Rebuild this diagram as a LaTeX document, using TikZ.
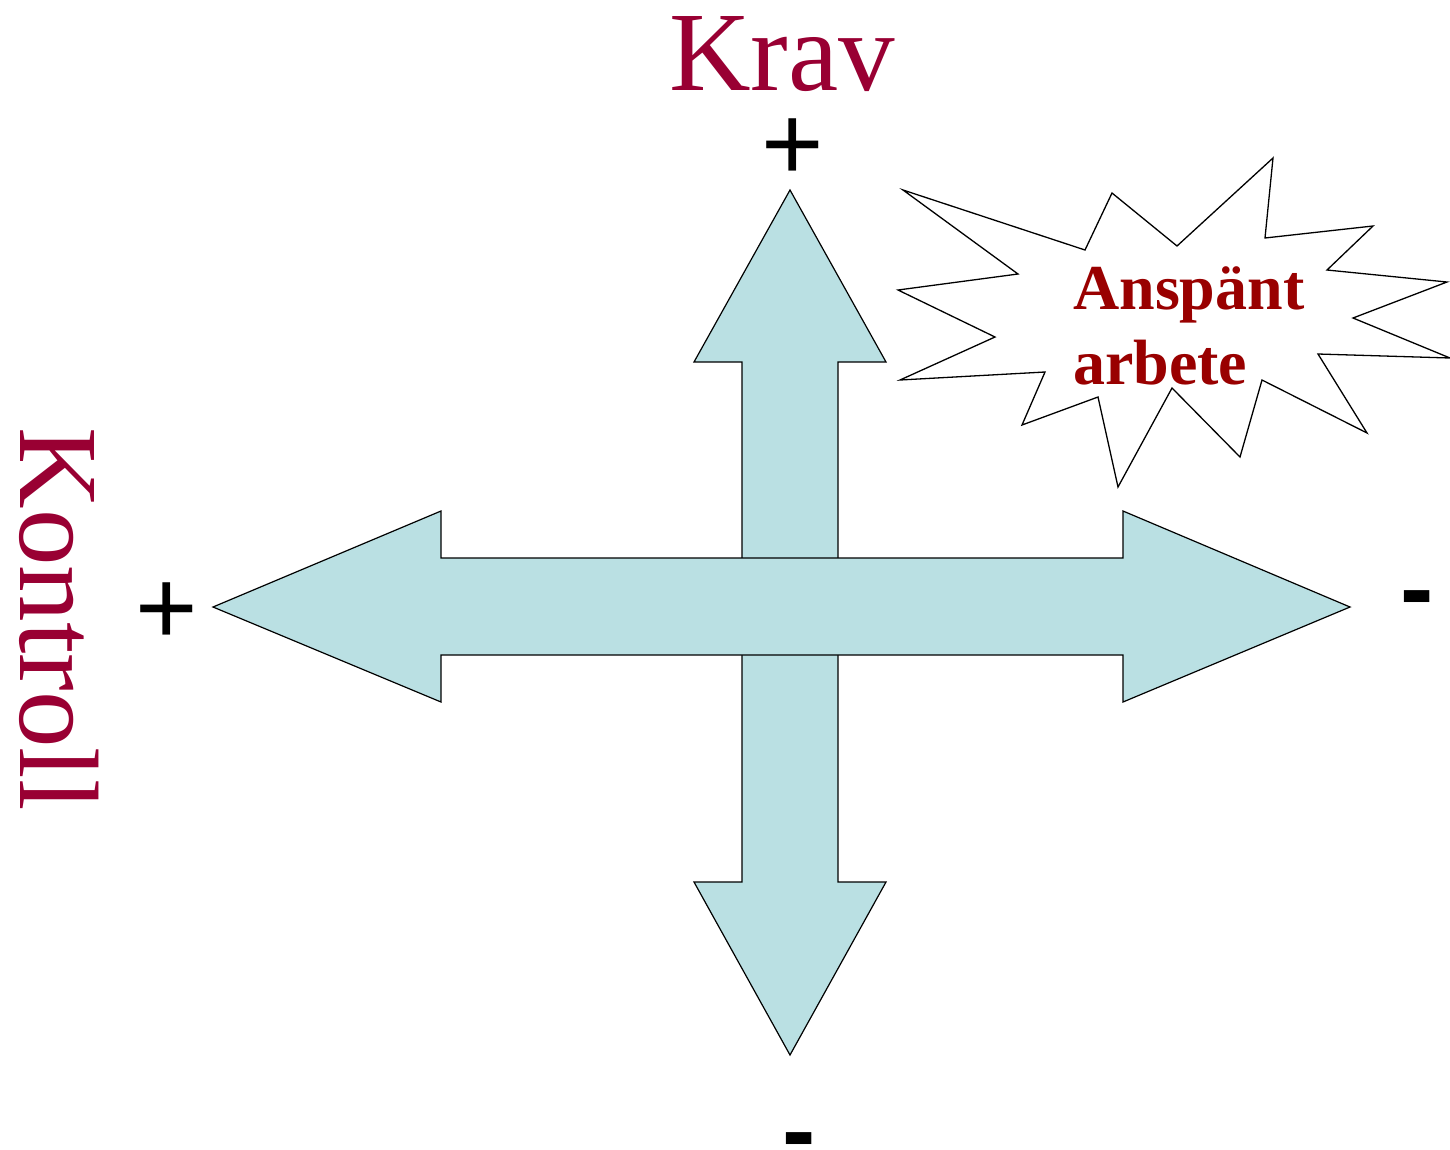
\documentclass[tikz,border=0pt]{standalone}
\usepackage{fontspec}
\setmainfont{Liberation Serif}
\newfontfamily\signfont{Liberation Sans}
\usetikzlibrary{positioning}
\definecolor{axisred}{HTML}{990033}
\definecolor{burstred}{HTML}{990000}
\definecolor{arrowfill}{HTML}{BAE0E3}

\begin{document}
\begin{tikzpicture}[x=1pt, y=-1pt,
    axislbl/.style={font=\fontsize{113}{113}\selectfont, text=axisred, inner sep=0pt},
    plus/.style={font=\signfont\fontsize{107}{107}\selectfont, inner sep=0pt},
    minus/.style={font=\signfont\bfseries\fontsize{100}{100}\selectfont, inner sep=0pt, anchor=base},
    blk/.style={fill=arrowfill, draw=black, line width=1.2pt, line join=miter},
    burst/.style={fill=white, draw=black, line width=1.3pt, line join=miter},
    bursttxt/.style={font=\bfseries\fontsize{64}{75}\selectfont, text=burstred,
                     align=left, inner sep=0pt, anchor=north west},
  ]
  \useasboundingbox (0,0) rectangle (1450,1149);
  % vertical arrow (Krav)
  \draw[blk] (790,190) -- (886,362) -- (838,362) -- (838,882) -- (886,882)
    -- (790,1055) -- (694,882) -- (742,882) -- (742,362) -- (694,362) -- cycle;
  % horizontal arrow (Kontroll)
  \draw[blk] (213,607) -- (441,511) -- (441,558) -- (1123,558) -- (1123,511)
    -- (1350,607) -- (1123,702) -- (1123,655) -- (441,655) -- (441,702) -- cycle;
  % explosion
  \draw[burst] (903,190) -- (1085,250) -- (1112,193) -- (1177,246) -- (1273,158)
    -- (1265,238) -- (1373,226) -- (1327,270) -- (1447,282) -- (1353,318)
    -- (1450,358) -- (1318,354) -- (1367,433) -- (1262,380) -- (1240,457)
    -- (1172,388) -- (1118,487) -- (1098,397) -- (1022,425) -- (1045,372)
    -- (900,380) -- (995,337) -- (898,290) -- (1018,274) -- cycle;
  \node[bursttxt] (spant) at (1073,266) {Anspänt\\arbete};

  \node[axislbl, anchor=base] (krav) at (782,90) {Krav};
  \node[axislbl, anchor=base, rotate=-90] (kontroll) at (20,619) {Kontroll};

  \node[plus] (kravplus) at (793,150) {+};
  \node[plus] (kontrollplus) at (167,614) {+};
  \node[minus] (kontrollminus) at (1417,622) {-};
  \node[minus] (kravminus) at (799,1164) {-};
\end{tikzpicture}
\end{document}
